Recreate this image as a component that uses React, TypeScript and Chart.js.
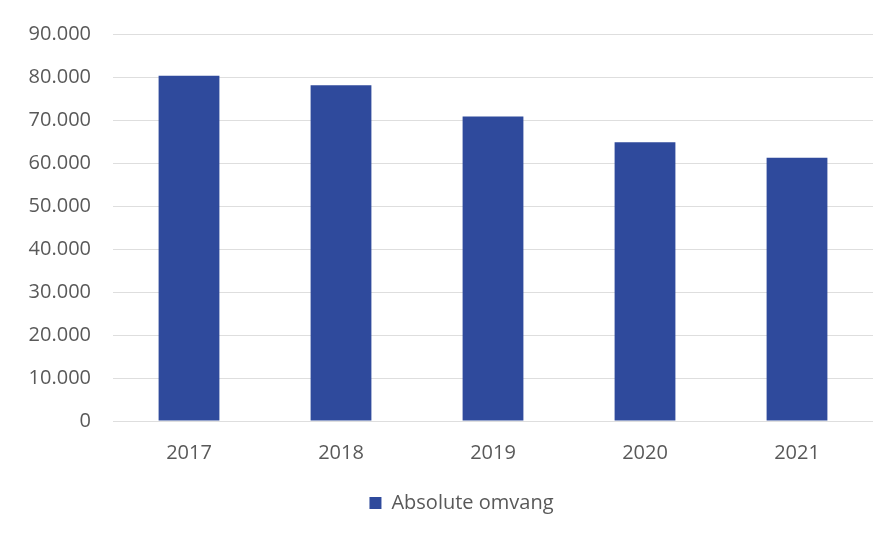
import React, { useEffect, useRef } from "react";
import { Chart, registerables } from "chart.js";

Chart.register(...registerables);

const categories = ["2017", "2018", "2019", "2020", "2021"];
const values = [80300, 78100, 70800, 64800, 61200];
const seriesLabel = "Absolute omvang";
const yMax = 90000;
const yStep = 10000;

const fmt = (v: number) => String(v).replace(/\B(?=(\d{3})+(?!\d))/g, ".");

const legendShift = {
  id: "legendShift",
  afterLayout(chart: any) {
    const lg = chart.legend;
    if (lg) {
      lg.left += 20;
      lg.right += 20;
    }
  },
};

export default function App() {
  const ref = useRef<HTMLCanvasElement | null>(null);
  useEffect(() => {
    document.body.style.margin = "0";
    const ctx = ref.current!;
    const font = { family: "'Open Sans', 'Noto Sans', sans-serif", size: 20 };
    const chart = new Chart(ctx, {
      type: "bar",
      data: {
        labels: categories,
        datasets: [
          {
            label: seriesLabel,
            data: values,
            backgroundColor: "#2F4A9C",
            borderWidth: 0,
            categoryPercentage: 1,
            barPercentage: 0.4,
          },
        ],
      },
      plugins: [legendShift],
      options: {
        animation: false,
        responsive: false,
        maintainAspectRatio: false,
        layout: { padding: { top: 34, right: 17, bottom: 13, left: 10 } },
        plugins: {
          legend: {
            position: "bottom",
            labels: {
              boxWidth: 12,
              boxHeight: 12,
              color: "#595959",
              font,
              padding: 10,
            },
          },
          tooltip: { enabled: false },
        },
        scales: {
          x: {
            grid: { display: false },
            border: { display: false },
            ticks: { color: "#595959", font, padding: 12 },
            afterFit: (s: any) => {
              s.height = 62;
            },
          },
          y: {
            min: 0,
            max: yMax,
            grid: { color: "#dedede", drawTicks: false },
            border: { display: false },
            ticks: {
              stepSize: yStep,
              color: "#595959",
              font,
              padding: 22,
              callback: (v: any) => fmt(Number(v)),
            },
            afterFit: (s: any) => {
              s.width = 103;
            },
          },
        },
      },
    });
    return () => chart.destroy();
  }, []);
  return (
    <div style={{ width: 890, height: 536, background: "#fff" }}>
      <canvas ref={ref} width={890} height={536} style={{ display: "block" }} />
    </div>
  );
}
